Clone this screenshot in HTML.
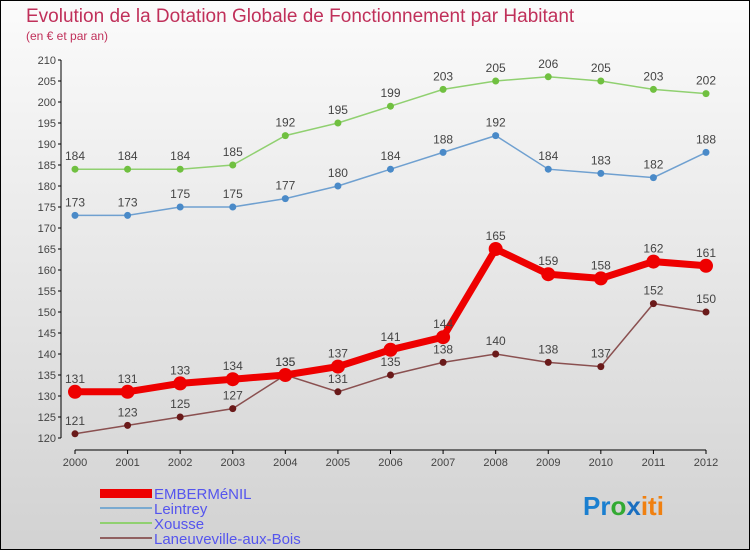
<!DOCTYPE html>
<html><head><meta charset="utf-8"><style>
body{margin:0}
#c{width:750px;height:550px;position:relative;box-sizing:border-box;border:1px solid #000;background:linear-gradient(#fbfbfb,#d2d2d2);font-family:"Liberation Sans",sans-serif;overflow:hidden}
</style></head><body>
<div id="c">
<svg id="s" width="750" height="550" style="position:absolute;left:-1px;top:-1px">
<text x="26" y="22" font-size="19" fill="#c0305a">Evolution de la Dotation Globale de Fonctionnement par Habitant</text>
<text x="26" y="40" font-size="12" fill="#c0305a">(en € et par an)</text>
<g id="g"></g>
<g font-size="15" fill="#5555ee">
<rect x="100" y="489" width="52" height="9" fill="#e00"/>
<text x="154" y="499">EMBERMéNIL</text>
<rect x="100" y="507" width="52" height="2" fill="#7aaad0"/>
<text x="154" y="514">Leintrey</text>
<rect x="100" y="522" width="52" height="2" fill="#90d070"/>
<text x="154" y="529">Xousse</text>
<rect x="100" y="537" width="52" height="2" fill="#906060"/>
<text x="154" y="544">Laneuveville-aux-Bois</text>
</g>
<text x="583" y="515" font-size="26" font-weight="bold"><tspan fill="#1a7fd0">Pr</tspan><tspan fill="#3a3">o</tspan><tspan fill="#1a6fc0">x</tspan><tspan fill="#f08010">iti</tspan></text>
</svg>
</div>
<script>
const years=[2000,2001,2002,2003,2004,2005,2006,2007,2008,2009,2010,2011,2012];
const yTicks=[120,125,130,135,140,145,150,155,160,165,170,175,180,185,190,195,200,205,210];
const embermenil=[131,131,133,134,135,137,141,144,165,159,158,162,161];
const leintrey=[173,173,175,175,177,180,184,188,192,184,183,182,188];
const xousse=[184,184,184,185,192,195,199,203,205,206,205,203,202];
const laneuveville=[121,123,125,127,135,131,135,138,140,138,137,152,150];
const NS="http://www.w3.org/2000/svg";
const g=document.getElementById('g');
const xs=i=>75+i*(706-75)/(years.length-1);
const ys=v=>438-(v-120)*(378/90);
function mk(t,a,p){const e=document.createElementNS(NS,t);for(const k in a)e.setAttribute(k,a[k]);(p||g).appendChild(e);return e;}
// axes
let ax=mk('line',{x1:61,y1:60,x2:61,y2:438,stroke:'#000','stroke-width':1});


yTicks.forEach(v=>{
 mk('line',{x1:58,y1:ys(v),x2:61,y2:ys(v),stroke:'#000'});
 const t=mk('text',{x:56,y:ys(v)+4,'text-anchor':'end','font-size':11,fill:'#444'});t.textContent=v;
 
 
});
let xa=mk('line',{x1:75,y1:450,x2:706,y2:450,stroke:'#000'});


years.forEach((y,i)=>{
 mk('line',{x1:xs(i),y1:450,x2:xs(i),y2:454,stroke:'#000'});
 const t=mk('text',{x:xs(i),y:466,'text-anchor':'middle','font-size':11,fill:'#444'});t.textContent=y;
 
 
});
function series(d,col,dot,w,r,name){
 const s=mk('polyline',{points:d.map((v,i)=>xs(i)+','+ys(v)).join(' '),fill:'none',stroke:col,'stroke-width':w});
 
 
 d.forEach((v,i)=>{
  const c=mk('circle',{cx:xs(i),cy:ys(v),r:r,fill:dot});
  
  
  const t=mk('text',{x:xs(i),y:ys(v)-9,'text-anchor':'middle','font-size':12,fill:'#444'});t.textContent=v;
  
  
 });
}
series(xousse,'#90d070','#70c040',1.5,3.5,'xousse');
series(leintrey,'#6fa0d0','#4a8ac8',1.5,3.5,'leintrey');
series(laneuveville,'#8a5050','#6a1a1a',1.5,3.5,'laneuveville');
series(embermenil,'#ee0000','#ee0000',7,7,'embermenil');
</script>
</body></html>
